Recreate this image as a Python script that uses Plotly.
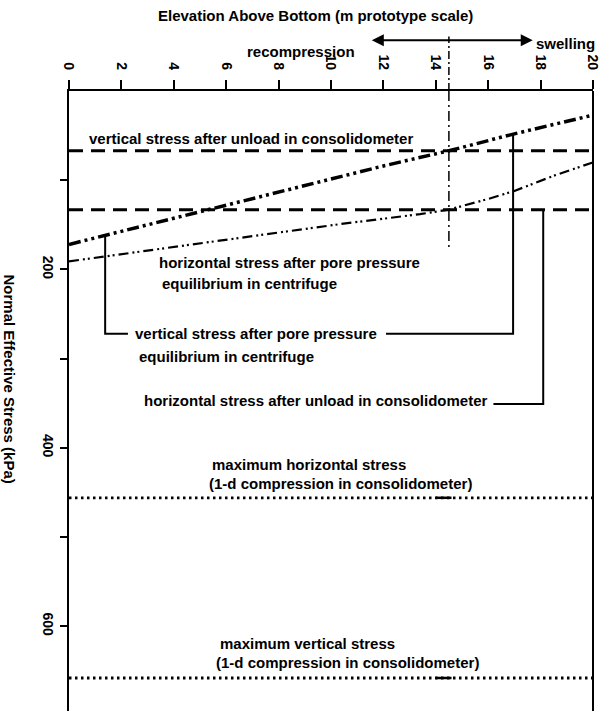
import plotly.graph_objects as go

# ---- data ----
elev_v = [0, 4, 8, 12, 14.5, 17, 20]
sigma_v_centrifuge = [172, 143, 113, 84, 67, 48, 27]

elev_h = [0, 2, 4, 6.5, 8.8, 10.4, 13.4, 14.5, 16, 17, 18.5, 20]
sigma_h_centrifuge = [191, 183, 175, 165, 155, 149, 138, 133, 121, 112, 95, 80]

elev_span = [0, 20]
sigma_v_unload = 67
sigma_h_unload = 133
sigma_h_max = 456
sigma_v_max = 658

neutral_elev = 14.5
neutral_depth = [0, 178]
neutral_mark = [14.0, 14.6]

x_ticks = [0, 2, 4, 6, 8, 10, 12, 14, 16, 18, 20]
y_ticks = [100, 200, 300, 400, 500, 600]
y_ticktext = ["", "200", "", "400", "", "600"]

# leader lines (label -> curve)
lead1a_x = [2.25, 1.38, 1.38]
lead1a_y = [272, 272, 162]
lead1b_x = [12.1, 16.95, 16.95]
lead1b_y = [272, 272, 48]
lead2_x = [16.2, 18.1, 18.1]
lead2_y = [351, 351, 133]

FONT = "Liberation Sans, Arial, sans-serif"
BLACK = "#000000"
TXT = dict(family=FONT, size=15, color=BLACK, weight="bold")

fig = go.Figure()

def line(x, y, width, dash="solid"):
    fig.add_trace(go.Scatter(x=x, y=y, mode="lines",
                             line=dict(color=BLACK, width=width, dash=dash),
                             showlegend=False, hoverinfo="skip"))

# horizontal reference lines
line(elev_span, [sigma_v_unload] * 2, 3, "14px,8px")
line(elev_span, [sigma_h_unload] * 2, 3, "14px,8px")
line(elev_span, [sigma_h_max] * 2, 2.8, "2.5px,3.5px")
line(elev_span, [sigma_v_max] * 2, 2.8, "2.5px,3.5px")
line(neutral_mark, [sigma_h_max] * 2, 2.5)
line(neutral_mark, [sigma_v_max] * 2, 2.5)

# curves
line(elev_v, sigma_v_centrifuge, 3.5, "12px,4px,3px,4px,3px,4px")
line(elev_h, sigma_h_centrifuge, 2.2, "10px,4px,2px,3px,2px,4px")

# neutral vertical line
line([neutral_elev] * 2, neutral_depth, 1.5, "10px,4px,2px,4px")

# leaders
line(lead1a_x, lead1a_y, 2)
line(lead1b_x, lead1b_y, 2)
line(lead2_x, lead2_y, 2)

# neutral line above plot + right frame
fig.add_shape(type="line", xref="x", yref="paper", x0=neutral_elev, x1=neutral_elev,
              y0=1.0, y1=1.088, line=dict(color=BLACK, width=1.5, dash="8px,3px,2px,3px"))
fig.add_shape(type="line", xref="paper", yref="paper", x0=1, x1=1, y0=0, y1=1,
              line=dict(color=BLACK, width=2))

def label(x, y, text):
    fig.add_annotation(x=x, y=y, xref="x", yref="y", text=text, showarrow=False,
                       xanchor="left", yanchor="middle", font=TXT)

label(0.69, 53, "vertical stress after unload in consolidometer")
label(3.37, 192.5, "horizontal stress after pore pressure")
label(3.48, 216, "equilibrium in centrifuge")
label(2.45, 272, "vertical stress after pore pressure")
label(2.6, 298, "equilibrium in centrifuge")
label(2.8, 347, "horizontal stress after unload in consolidometer")
label(5.4, 419, "maximum horizontal stress")
label(5.25, 440, "(1-d compression in consolidometer)")
label(5.7, 619, "maximum vertical stress")
label(5.55, 641, "(1-d compression in consolidometer)")

# arrow recompression <-> swelling
fig.add_annotation(x=17.7, y=1.082, ax=11.5, ay=0, xref="x", yref="paper",
                   axref="x", ayref="pixel", text="", showarrow=True,
                   arrowhead=2, startarrowhead=2, arrowside="end+start",
                   arrowsize=1.2, arrowwidth=2, arrowcolor=BLACK)
fig.add_annotation(x=11.0, y=1.064, xref="x", yref="paper", text="recompression",
                   showarrow=False, xanchor="right", yanchor="middle", font=TXT)
fig.add_annotation(x=1.008, y=1.077, xref="paper", yref="paper", text="swelling",
                   showarrow=False, xanchor="right", yanchor="middle", font=TXT)

# axis titles
fig.add_annotation(x=0.47, y=1.121, xref="paper", yref="paper",
                   text="Elevation Above Bottom (m prototype scale)",
                   showarrow=False, xanchor="center", yanchor="middle", font=TXT)
fig.add_annotation(x=-0.113, y=0.535, xref="paper", yref="paper",
                   text="Normal Effective Stress (kPa)", textangle=90,
                   showarrow=False, xanchor="center", yanchor="middle", font=TXT)

TICKF = dict(family=FONT, size=14, color=BLACK, weight="bold")
fig.update_layout(
    width=607, height=711,
    margin=dict(l=69, r=14, t=91, b=0),
    paper_bgcolor="white", plot_bgcolor="white",
    font=dict(family=FONT, size=14, color=BLACK),
    xaxis=dict(side="top", range=[0, 20], tickvals=x_ticks, tickangle=90,
               showline=True, linecolor=BLACK, linewidth=2, automargin=False,
               ticks="outside", ticklen=9, tickwidth=2, tickcolor=BLACK,
               showgrid=False, zeroline=False, ticklabelstandoff=5,
               tickfont=TICKF),
    yaxis=dict(range=[695, 0], tickvals=y_ticks, ticktext=y_ticktext, tickangle=90,
               showline=True, linecolor=BLACK, linewidth=2, automargin=False,
               ticks="outside", ticklen=7, tickwidth=2, tickcolor=BLACK,
               showgrid=False, zeroline=False, ticklabelstandoff=0,
               tickfont=TICKF),
)

fig.write_html("out.html", config={"displayModeBar": False},
               post_script="document.body.style.margin='0';document.body.style.overflow='hidden';")
